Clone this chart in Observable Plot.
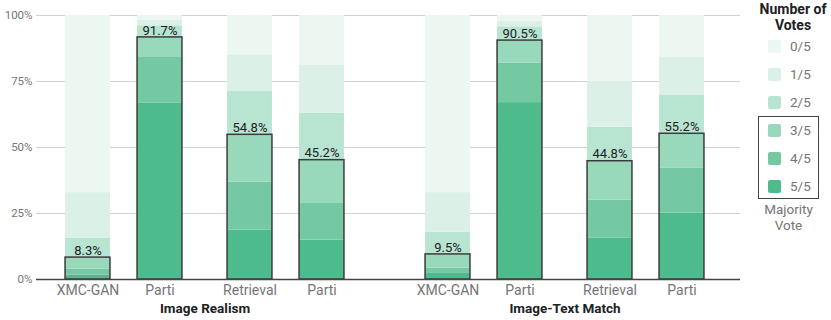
<!DOCTYPE html>
<html>
<head>
<meta charset="utf-8">
<script src="https://cdn.jsdelivr.net/npm/d3@7"></script>
<script src="https://cdn.jsdelivr.net/npm/@observablehq/plot@0.6"></script>
<style>
  body { margin: 0; background: #fff; font-family: Roboto, "Noto Sans", sans-serif; }
  #wrap { position: relative; width: 831px; height: 320px; }
  #legend { position: absolute; left: 745px; top: 0; width: 86px; height: 320px; }
  .lg-title { position: absolute; left: 0; width: 96px; text-align: center; font-weight: 700; font-size: 14px; color: #202124; line-height: 16px; }
  .lg-row { position: absolute; left: 23px; height: 13px; display: flex; align-items: center; }
  .lg-sw { width: 13px; height: 13px; border-radius: 2px; }
  .lg-lab { margin-left: 9px; font-size: 13.5px; color: #757575; }
  .lg-box { position: absolute; border: 1.5px solid #444; box-sizing: border-box; }
  .lg-note { position: absolute; text-align: center; font-size: 13.5px; color: #757575; line-height: 15.5px; }
</style>
</head>
<body>
<div id="wrap"><div id="chart"></div><div id="legend"></div></div>
<script>
// ---------------- data ----------------
const groups = ["Image Realism", "Image-Text Match"];
const models = ["XMC-GAN", "Parti", "Retrieval", "Parti"];
const voteLevels = ["0/5", "1/5", "2/5", "3/5", "4/5", "5/5"];
const voteColors = ["#ECF7F2", "#DBF1E8", "#B8E5D2", "#98D8BB", "#74C9A3", "#4DBB8C"];
const majorityLevels = ["3/5", "4/5", "5/5"];
const yTicks = [0, 25, 50, 75, 100];

// share of prompts (%) per vote level, in order 0/5 .. 5/5
const realismXmcGan    = [67.1, 17.2, 7.4, 4.4, 2.3, 1.6];
const realismParti1    = [1.7, 2.2, 4.4, 7.6, 17.2, 66.9];
const realismRetrieval = [14.9, 13.9, 16.4, 17.9, 18.2, 18.7];
const realismParti2    = [18.7, 18.3, 17.8, 16.4, 13.9, 14.9];
const matchXmcGan      = [67.1, 15.0, 8.4, 5.2, 2.0, 2.3];
const matchParti1      = [2.3, 2.0, 5.2, 8.5, 15.0, 67.0];
const matchRetrieval   = [25.1, 17.2, 12.9, 14.7, 14.5, 15.6];
const matchParti2      = [15.9, 14.4, 14.5, 13.1, 17.0, 25.1];
// majority-vote share (%) shown above each bar
const majorityVote = [8.3, 91.7, 54.8, 45.2, 9.5, 90.5, 44.8, 55.2];

const seriesByBar = [
  realismXmcGan, realismParti1, realismRetrieval, realismParti2,
  matchXmcGan, matchParti1, matchRetrieval, matchParti2
];

// ---------------- layout of categorical slots ----------------
// gaps (in half bar-steps) between consecutive bars
const GAP_IN_PAIR = 8, GAP_PAIRS = 10, GAP_GROUPS = 14;
const bars = [];
let pos = 0;
groups.forEach((g, gi) => {
  models.forEach((m, mi) => {
    if (gi > 0 || mi > 0) {
      pos += mi === 0 ? GAP_GROUPS : (mi === 2 ? GAP_PAIRS : GAP_IN_PAIR);
    }
    const b = gi * models.length + mi;
    bars.push({key: `${gi}-${mi}`, group: g, model: m, pos, values: seriesByBar[b], majority: majorityVote[b]});
  });
});
const nSlots = pos + 1;
const slotKeys = d3.range(nSlots).map(i => `slot${i}`);
bars.forEach(b => slotKeys[b.pos] = b.key);
// group label slot = middle of the group's bars
groups.forEach(g => {
  const gb = bars.filter(b => b.group === g);
  const mid = Math.round((gb[0].pos + gb[gb.length - 1].pos) / 2);
  slotKeys[mid] = g;
});

// tidy rows, stacked bottom (5/5) to top (0/5)
const rows = [];
bars.forEach(b => {
  for (let k = voteLevels.length - 1; k >= 0; k--) {
    rows.push({key: b.key, vote: voteLevels[k], value: b.values[k]});
  }
});

const labelOf = new Map(bars.map(b => [b.key, b.model]));
const BAR_INSET = -17.95;

const chart = Plot.plot({
  width: 831,
  height: 320,
  marginTop: 15,
  marginBottom: 41,
  marginLeft: 36,
  marginRight: 91,
  style: {fontFamily: "Roboto, 'Noto Sans', sans-serif", background: "transparent"},
  x: {type: "band", domain: slotKeys, paddingInner: 0, paddingOuter: 5.19, align: 0.4654},
  y: {domain: [0, 100]},
  color: {domain: voteLevels, range: voteColors},
  marks: [
    Plot.gridY(yTicks.filter(t => t > 0), {stroke: "#d2d2d2", strokeOpacity: 1, strokeWidth: 1}),
    Plot.barY(rows, {x: "key", y: "value", fill: "vote", insetLeft: BAR_INSET, insetRight: BAR_INSET}),
    Plot.barY(bars, {x: "key", y: "majority", fill: "none", stroke: "#3c3c3c", strokeWidth: 1.5, insetLeft: BAR_INSET, insetRight: BAR_INSET}),
    Plot.ruleY([0], {stroke: "#444", strokeWidth: 1.5}),
    Plot.text(bars, {x: "key", y: "majority", text: d => d.majority.toFixed(1) + "%", dy: -7, fontSize: 13, fill: "#202124"}),
    Plot.axisY({ticks: yTicks, tickFormat: d => d + "%", tickSize: 0, tickPadding: 4, fontSize: 11.5, fill: "#757575", label: null}),
    Plot.axisX({ticks: bars.map(b => b.key), tickFormat: k => labelOf.get(k), tickSize: 0, tickPadding: 6, fontSize: 14, fill: "#757575", label: null}),
    Plot.text(groups, {x: d => d, frameAnchor: "bottom", lineAnchor: "middle", dy: 29, fontSize: 13.5, fontWeight: 700, fill: "#202124"})
  ]
});
document.getElementById("chart").appendChild(chart);

// ---------------- legend ----------------
const legend = document.getElementById("legend");
function add(cls, style, html) {
  const el = document.createElement("div");
  el.className = cls;
  Object.assign(el.style, style);
  if (html != null) el.innerHTML = html;
  legend.appendChild(el);
  return el;
}
add("lg-title", {top: "1px"}, "Number of<br>Votes");
voteLevels.forEach((v, i) => {
  const row = add("lg-row", {top: (39.5 + i * 28) + "px"});
  const sw = document.createElement("div");
  sw.className = "lg-sw";
  sw.style.background = voteColors[i];
  const lab = document.createElement("span");
  lab.className = "lg-lab";
  lab.textContent = v;
  row.appendChild(sw);
  row.appendChild(lab);
});
add("lg-box", {left: "13px", top: "116px", width: "61px", height: (28 * majorityLevels.length - 1) + "px"});
add("lg-note", {left: "13px", width: "61px", top: "202px"}, "Majority<br>Vote");
</script>
</body>
</html>
